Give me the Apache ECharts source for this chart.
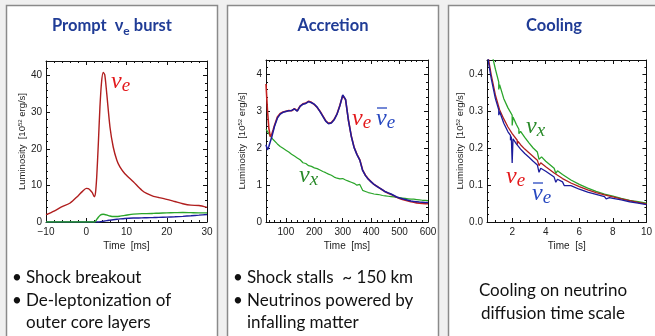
<!DOCTYPE html>
<html>
<head>
<meta charset="utf-8">
<script src="https://cdn.jsdelivr.net/npm/echarts@6/dist/echarts.min.js"></script>
<style>
html, body { margin: 0; padding: 0; background: #f0f0f0; }
#main { width: 655px; height: 336px; }
</style>
</head>
<body>
<div id="main"></div>
<script>
// panel 1: prompt nu_e burst (time in ms, luminosity in 1e52 erg/s)
const burstTime = [-10, -8, -6, -4, -2, -1, 0, 0.5, 1, 1.5, 2, 2.3, 2.6, 3, 3.4, 3.8, 4.2, 4.6, 5.1, 5.9, 6.7, 7.6, 8.4, 9.6, 11.7, 13.8, 15, 16.7, 18, 20, 22, 24, 26, 28, 30];
const burstNuE = [2.0, 3.0, 4.2, 5.2, 7.2, 8.3, 9.2, 9.1, 8.7, 8.0, 6.9, 8.0, 12.3, 21.4, 31.4, 38.2, 40.9, 40.2, 35.0, 25.9, 20.5, 16.9, 15.0, 13.2, 11.0, 8.7, 7.8, 7.0, 6.7, 6.2, 5.6, 5.0, 4.6, 4.5, 4.0];
const burstNuX = [0, 0, 0, 0, 0, 0, 0, 0, 0, 0, 0, 0.2, 0.7, 1.3, 1.8, 2.05, 2.1, 2.05, 1.9, 1.65, 1.5, 1.5, 1.6, 1.8, 2.15, 2.3, 2.3, 2.35, 2.4, 2.5, 2.55, 2.6, 2.55, 2.5, 2.5];
const burstNuEbar = [0, 0, 0, 0, 0, 0, 0, 0, 0, 0, 0, 0, 0, 0, 0.05, 0.12, 0.2, 0.28, 0.38, 0.5, 0.62, 0.75, 0.85, 0.97, 1.08, 1.13, 1.17, 1.22, 1.27, 1.33, 1.42, 1.55, 1.7, 1.87, 2.05];

// panel 2: accretion (time in ms)
const accTime = [30, 35, 40, 45, 50, 55, 60, 70, 80, 90, 100, 110, 120, 130, 140, 150, 160, 170, 180, 190, 200, 210, 220, 230, 240, 250, 260, 270, 280, 290, 300, 310, 320, 330, 340, 350, 360, 370, 380, 390, 400, 410, 420, 430, 440, 450, 460, 470, 480, 490, 500, 510, 520, 530, 540, 550, 560, 570, 580, 590, 600];
const accNuE = [3.75, 3.05, 2.55, 2.32, 2.38, 2.5, 2.63, 2.85, 2.95, 2.99, 3.01, 3.03, 3.02, 3.08, 3.02, 3.15, 3.21, 3.23, 3.28, 3.25, 3.19, 3.11, 3.01, 2.88, 2.75, 2.68, 2.70, 2.79, 2.94, 3.17, 3.44, 3.32, 2.77, 2.34, 2.03, 1.84, 1.69, 1.41, 1.27, 1.17, 1.09, 1.02, 0.97, 0.92, 0.87, 0.82, 0.78, 0.75, 0.71, 0.67, 0.64, 0.61, 0.59, 0.57, 0.55, 0.54, 0.52, 0.51, 0.505, 0.5, 0.5];
const accNuEbar = [2.10, 1.96, 2.05, 2.18, 2.30, 2.45, 2.60, 2.82, 2.93, 2.98, 3.00, 3.02, 3.03, 3.07, 3.01, 3.14, 3.20, 3.22, 3.27, 3.24, 3.20, 3.12, 3.00, 2.87, 2.74, 2.67, 2.69, 2.78, 2.93, 3.16, 3.45, 3.33, 2.76, 2.33, 2.02, 1.83, 1.68, 1.40, 1.26, 1.16, 1.09, 1.02, 0.97, 0.92, 0.87, 0.82, 0.79, 0.76, 0.72, 0.68, 0.65, 0.63, 0.61, 0.59, 0.57, 0.56, 0.55, 0.54, 0.535, 0.53, 0.53];
const accNuX = [2.52, 2.46, 2.40, 2.34, 2.29, 2.24, 2.20, 2.12, 2.05, 2.00, 1.95, 1.90, 1.84, 1.79, 1.74, 1.69, 1.61, 1.59, 1.53, 1.51, 1.47, 1.45, 1.41, 1.37, 1.34, 1.30, 1.27, 1.22, 1.19, 1.17, 1.18, 1.14, 1.11, 1.08, 1.05, 1.00, 1.02, 0.86, 0.83, 0.80, 0.78, 0.76, 0.75, 0.74, 0.72, 0.71, 0.70, 0.69, 0.68, 0.67, 0.66, 0.65, 0.64, 0.63, 0.62, 0.62, 0.61, 0.60, 0.59, 0.585, 0.58];

// panel 3: cooling (time in s), repeated times are the little glitches in the curves
const coolTimeX = [0.5, 0.75, 0.85, 1.0, 1.2, 1.2, 1.25, 1.5, 1.75, 2.0, 2.0, 2.05, 2.25, 2.4, 2.4, 2.5, 2.75, 3.0, 3.25, 3.5, 3.6, 3.6, 3.75, 4.0, 4.5, 4.6, 4.6, 4.7, 5.0, 5.5, 6.0, 6.5, 7.0, 7.5, 8.0, 8.5, 9.0, 9.5, 10];
const coolNuX = [0.50, 0.465, 0.445, 0.415, 0.38, 0.36, 0.373, 0.335, 0.31, 0.29, 0.262, 0.285, 0.265, 0.252, 0.24, 0.246, 0.23, 0.215, 0.201, 0.19, 0.185, 0.17, 0.177, 0.165, 0.146, 0.143, 0.132, 0.139, 0.129, 0.114, 0.102, 0.092, 0.083, 0.076, 0.070, 0.064, 0.059, 0.055, 0.051];
const coolTimeE = [0.5, 0.6, 0.75, 1.0, 1.25, 1.5, 1.75, 2.0, 2.3, 2.3, 2.35, 2.5, 2.75, 3.0, 3.25, 3.5, 3.6, 3.6, 3.7, 4.0, 4.5, 5.0, 5.5, 6.0, 6.5, 7.0, 7.5, 8.0, 8.5, 9.0, 9.5, 10];
const coolNuE = [0.48, 0.44, 0.40, 0.345, 0.305, 0.28, 0.258, 0.24, 0.222, 0.21, 0.219, 0.21, 0.198, 0.188, 0.178, 0.168, 0.164, 0.153, 0.161, 0.15, 0.133, 0.118, 0.106, 0.096, 0.087, 0.080, 0.074, 0.068, 0.063, 0.058, 0.053, 0.049];
const coolTimeEbar = [0.5, 0.6, 0.75, 1.0, 1.2, 1.2, 1.25, 1.5, 1.75, 1.9, 1.9, 1.95, 2.0, 2.0, 2.05, 2.25, 2.5, 2.75, 3.0, 3.25, 3.5, 3.6, 3.6, 3.7, 4.0, 4.5, 4.6, 4.6, 4.7, 5.0, 5.1, 5.1, 5.2, 5.5, 6.0, 6.5, 7.0, 7.5, 7.6, 7.6, 7.7, 7.8, 7.8, 8.0, 8.5, 9.0, 9.5, 10];
const coolNuEbar = [0.47, 0.43, 0.39, 0.335, 0.305, 0.29, 0.30, 0.268, 0.245, 0.235, 0.222, 0.232, 0.228, 0.16, 0.226, 0.212, 0.198, 0.186, 0.176, 0.165, 0.155, 0.151, 0.135, 0.146, 0.138, 0.122, 0.119, 0.108, 0.116, 0.109, 0.106, 0.099, 0.104, 0.099, 0.089, 0.081, 0.075, 0.069, 0.068, 0.063, 0.067, 0.066, 0.062, 0.064, 0.060, 0.055, 0.051, 0.047];

const titles = ['Prompt', 'Accretion', 'Cooling'];
const xNames = ['Time  [ms]', 'Time  [ms]', 'Time  [s]'];
const panel1Text = ['Shock breakout', 'De-leptonization of', 'outer core layers'];
const panel2Text = ['Shock stalls  ~ 150 km', 'Neutrinos powered by', 'infalling matter'];
const panel3Text = ['Cooling on neutrino', 'diffusion time scale'];

// axis ranges and major tick values
const xRanges = [
  { min: -10, max: 30, ticks: [-10, 0, 10, 20, 30], minorStep: 2 },
  { min: 30, max: 600, ticks: [100, 200, 300, 400, 500, 600], minorStep: 20 },
  { min: 0.5, max: 10, ticks: [2, 4, 6, 8, 10], minorStep: 0.5 }
];
const yRanges = [
  { min: 0, max: 44, interval: 10, fmt: v => String(v) },
  { min: 0, max: 4.4, interval: 1, fmt: v => String(v) },
  { min: 0, max: 0.44, interval: 0.1, fmt: v => v.toFixed(1) }
];

const RED = '#b01e1e', BLUE = '#1c1c9c', GREEN = '#2aa52a';
const TITLE_BLUE = '#203c96';
const SANS = 'Lato, "Noto Sans", sans-serif';
const MATH = '"Liberation Serif", "DejaVu Serif", serif';

const zip = (t, v) => t.map((x, i) => [x, v[i]]);

const chart = echarts.init(document.getElementById('main'));

const panelLeft = [6, 227, 448];
const grids = [
  { left: 46, top: 61, width: 161, height: 161 },
  { left: 266, top: 60, width: 162, height: 162 },
  { left: 487, top: 60, width: 162, height: 162 }
];

const INK = '#111';
const labelStyle = { color: '#222', fontSize: 10, fontFamily: '"Liberation Sans", Arial, sans-serif' };

// minor tick positions between min and max, skipping the majors
function minorValues(r) {
  const out = [];
  const n = Math.round((r.max - r.min) / r.minorStep);
  const start = Math.ceil(r.min / r.minorStep - 1e-9) * r.minorStep;
  for (let v = start; v <= r.max + 1e-9; v += r.minorStep) {
    const val = Math.round(v * 1000) / 1000;
    if (val > r.min && val < r.max && r.ticks.indexOf(val) < 0) out.push(val);
  }
  return out;
}

const xAxis = [], yAxis = [];
const xMinorAxes = [];
for (let i = 0; i < 3; i++) {
  const xr = xRanges[i], yr = yRanges[i];
  const xBase = {
    type: 'value', gridIndex: i, min: xr.min, max: xr.max,
    axisLine: { show: true, onZero: false, lineStyle: { color: INK, width: 1 } },
    axisTick: { show: true, inside: true, length: 4, customValues: xr.ticks, lineStyle: { color: INK } },
    minorTick: { show: false },
    splitLine: { show: false }
  };
  xAxis.push(Object.assign({}, xBase, {
    position: 'bottom',
    name: xNames[i], nameLocation: 'middle', nameGap: 19,
    nameTextStyle: labelStyle,
    axisLabel: Object.assign({}, labelStyle, {
      margin: 5, customValues: xr.ticks,
      formatter: v => (v < 0 ? '\u2212' + Math.abs(v) : String(v))
    })
  }));
  xAxis.push(Object.assign({}, xBase, { position: 'top', axisLabel: { show: false } }));
  // minor ticks, bottom and top
  ['bottom', 'top'].forEach(pos => {
    xMinorAxes.push({
      type: 'value', gridIndex: i, min: xr.min, max: xr.max, position: pos,
      axisLine: { show: false, onZero: false },
      axisTick: { show: true, inside: true, length: 2, customValues: minorValues(xr), lineStyle: { color: INK } },
      axisLabel: { show: false },
      splitLine: { show: false }
    });
  });

  const yBase = {
    type: 'value', gridIndex: i, min: yr.min, max: yr.max, interval: yr.interval,
    axisLine: { show: true, onZero: false, lineStyle: { color: INK, width: 1 } },
    axisTick: { show: true, inside: true, length: 4, lineStyle: { color: INK } },
    minorTick: { show: true, splitNumber: 5, length: 2, lineStyle: { color: INK } },
    splitLine: { show: false }
  };
  yAxis.push(Object.assign({}, yBase, {
    position: 'left',
    name: '{a|Luminosity  [10}{b|52}{a| erg/s]}', nameLocation: 'middle', nameGap: i === 2 ? 21 : 19,
    nameRotate: 90,
    nameTextStyle: {
      rich: {
        a: { fontSize: 9.5, color: '#222', fontFamily: labelStyle.fontFamily },
        b: { fontSize: 6, color: '#222', fontFamily: labelStyle.fontFamily, verticalAlign: 'top', padding: [0, 0, 4, 0] }
      }
    },
    axisLabel: Object.assign({}, labelStyle, { margin: 4, showMaxLabel: false, formatter: yr.fmt })
  }));
  yAxis.push(Object.assign({}, yBase, { position: 'right', axisLabel: { show: false } }));
}
xMinorAxes.forEach(a => xAxis.push(a));

function line(panel, data, color, width) {
  return {
    type: 'line', xAxisIndex: panel * 2, yAxisIndex: panel * 2, data: data,
    showSymbol: false, symbol: 'none', smooth: panel === 0 ? 0.25 : false,
    lineStyle: { color: color, width: width || 1.4 }, clip: true, animation: false, z: 3
  };
}

const series = [
  line(0, zip(burstTime, burstNuEbar), BLUE),
  line(0, zip(burstTime, burstNuX), GREEN),
  line(0, zip(burstTime, burstNuE), RED),
  line(1, zip(accTime, accNuX), GREEN, 1.2),
  line(1, zip(accTime, accNuE), '#c42020', 1.6),
  line(1, zip(accTime, accNuEbar), BLUE, 1.5),
  line(2, zip(coolTimeX, coolNuX), GREEN, 1.3),
  line(2, zip(coolTimeE, coolNuE), RED, 1.3),
  line(2, zip(coolTimeEbar, coolNuEbar), BLUE, 1.3)
];

// panels, titles, texts, curve labels
const graphic = [];
panelLeft.forEach((x0, i) => {
  graphic.push({
    type: 'rect', z: -10, silent: true,
    shape: { x: x0 + 0.5, y: 5.5, width: 211, height: 345 },
    style: { fill: '#fff', stroke: '#8a8a8a', lineWidth: 1.5 }
  });
});

const titleRich = {
  a: { fontSize: 16.5, fontWeight: 'bold', fontFamily: SANS, fill: TITLE_BLUE, lineHeight: 22 },
  s: { fontSize: 12, fontWeight: 'bold', fontFamily: SANS, fill: TITLE_BLUE, lineHeight: 22, verticalAlign: 'bottom' }
};
const titleTexts = ['{a|' + titles[0] + '  \u03bd}{s|e}{a| burst}', '{a|' + titles[1] + '}', '{a|' + titles[2] + '}'];
titleTexts.forEach((t, i) => {
  graphic.push({
    type: 'text', z: 50, x: panelLeft[i] + 106, y: 26,
    style: { text: t, rich: titleRich, align: 'center', verticalAlign: 'middle' }
  });
});

function bodyText(x, y, str, align) {
  graphic.push({
    type: 'text', z: 50, x: x, y: y,
    style: { text: str, fontSize: 17, fontFamily: SANS, fill: '#111', align: align || 'left', verticalAlign: 'middle' }
  });
}
function bullet(x, y) {
  graphic.push({
    type: 'text', z: 50, x: x, y: y,
    style: { text: '\u2022', fontSize: 17, fontFamily: SANS, fill: '#111', align: 'center', verticalAlign: 'middle' }
  });
}
const lineY = [278, 301, 323];
[panel1Text, panel2Text].forEach((lines, i) => {
  const x0 = panelLeft[i];
  bullet(x0 + 11, lineY[0]);
  bodyText(x0 + 20, lineY[0], lines[0]);
  bullet(x0 + 11, lineY[1]);
  bodyText(x0 + 20, lineY[1], lines[1]);
  bodyText(x0 + 20, lineY[2], lines[2]);
});
bodyText(553, 291, panel3Text[0], 'center');
bodyText(553, 314, panel3Text[1], 'center');

function nuLabel(x, y, color, sub, bar) {
  graphic.push({
    type: 'text', z: 60, x: x, y: y,
    style: {
      text: '{n|\u03bd}{s|' + sub + '}',
      rich: {
        n: { fontSize: 24, fontStyle: 'italic', fontFamily: MATH, fill: color, lineHeight: 26 },
        s: { fontSize: 19, fontStyle: 'italic', fontFamily: MATH, fill: color, lineHeight: 26, verticalAlign: 'bottom' }
      },
      align: 'left', verticalAlign: 'middle'
    }
  });
  if (bar) {
    graphic.push({
      type: 'line', z: 60, silent: true,
      shape: { x1: x + 1, y1: y - 11, x2: x + 11, y2: y - 11 },
      style: { stroke: color, lineWidth: 1.3 }
    });
  }
}
const LRED = '#e3191c', LBLUE = '#2748c0', LGREEN = '#2a8a2a';
nuLabel(111, 82, LRED, 'e');
nuLabel(352, 119, LRED, 'e');
nuLabel(376, 119, LBLUE, 'e', true);
nuLabel(299, 176, LGREEN, 'x');
nuLabel(526, 127, LGREEN, 'x');
nuLabel(506, 177, LRED, 'e');
nuLabel(532, 194, LBLUE, 'e', true);

chart.setOption({
  animation: false,
  backgroundColor: '#f0f0f0',
  grid: grids,
  xAxis: xAxis,
  yAxis: yAxis,
  series: series,
  graphic: graphic
});
</script>
</body>
</html>
